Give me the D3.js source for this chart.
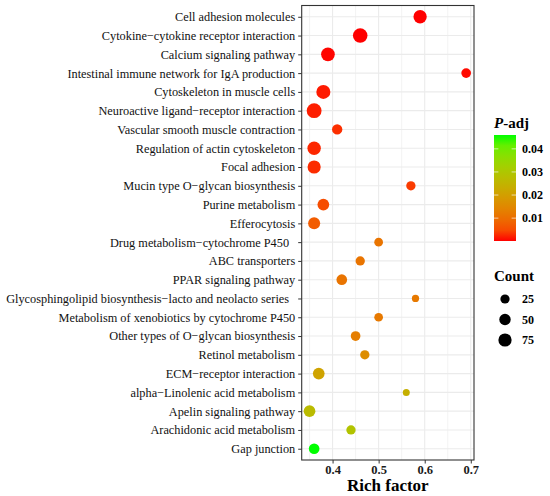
<!DOCTYPE html>
<html>
<head>
<meta charset="utf-8">
<script src="https://cdn.jsdelivr.net/npm/d3@7"></script>
<style>
  body { margin: 0; background: #fff; }
  svg { display: block; font-family: "Liberation Serif", "Times New Roman", serif; }
</style>
</head>
<body>
<div id="chart"></div>
<script>
// pathway names, top to bottom
const pathways = [
  "Cell adhesion molecules",
  "Cytokine\u2212cytokine receptor interaction",
  "Calcium signaling pathway",
  "Intestinal immune network for IgA production",
  "Cytoskeleton in muscle cells",
  "Neuroactive ligand\u2212receptor interaction",
  "Vascular smooth muscle contraction",
  "Regulation of actin cytoskeleton",
  "Focal adhesion",
  "Mucin type O\u2212glycan biosynthesis",
  "Purine metabolism",
  "Efferocytosis",
  "Drug metabolism\u2212cytochrome P450  ",
  "ABC transporters",
  "PPAR signaling pathway",
  "Glycosphingolipid biosynthesis\u2212lacto and neolacto series  ",
  "Metabolism of xenobiotics by cytochrome P450",
  "Other types of O\u2212glycan biosynthesis",
  "Retinol metabolism",
  "ECM\u2212receptor interaction",
  "alpha\u2212Linolenic acid metabolism",
  "Apelin signaling pathway",
  "Arachidonic acid metabolism",
  "Gap junction"
];
const richFactor = [0.59, 0.46, 0.39, 0.69, 0.38, 0.36, 0.41, 0.36, 0.36, 0.57, 0.38, 0.36,
                    0.50, 0.46, 0.42, 0.58, 0.50, 0.45, 0.47, 0.37, 0.56, 0.35, 0.44, 0.36];
const counts = [76, 96, 82, 30, 87, 100, 37, 78, 74, 26, 54, 58,
                20, 26, 41, 7, 20, 30, 26, 54, 5, 54, 26, 41];
const padj = [0.0001, 0.0001, 0.0002, 0.0003, 0.0008, 0.001, 0.002, 0.0015, 0.0018, 0.003, 0.005, 0.007,
              0.011, 0.011, 0.011, 0.012, 0.012, 0.013, 0.016, 0.021, 0.024, 0.027, 0.029, 0.046];
const xTicks = [0.4, 0.5, 0.6, 0.7];
const xMinor = [0.35, 0.45, 0.55, 0.65];
const colorTicks = [0.01, 0.02, 0.03, 0.04];
const sizeBreaks = [25, 50, 75];

const width = 550, height = 496;
const panel = { left: 301.7, right: 474, top: 5.5, bottom: 460 };

const data = pathways.map(function (p, i) {
  return { name: p, rich: richFactor[i], count: counts[i], padj: padj[i] };
});

const svg = d3.select("#chart").append("svg")
  .attr("width", width)
  .attr("height", height);

//----------------------------SCALES-----------------------------//
const xScale = d3.scaleLinear().domain([0.333, 0.707]).range([panel.left, panel.right]);
const yScale = d3.scalePoint().domain(pathways).range([panel.top, panel.bottom]).padding(0.6);
const rScale = d3.scaleRadial().domain([0, 100]).range([Math.sqrt(10), Math.sqrt(55)]);
const cScale = d3.scaleLinear()
  .domain(d3.extent(padj))
  .range(["#ff0000", "#00ff00"])
  .interpolate(d3.interpolateLab);

//-----------------------------GRID------------------------------//
const grid = svg.append("g");
grid.selectAll(".minor").data(xMinor).enter().append("line")
  .attr("x1", d => xScale(d)).attr("x2", d => xScale(d))
  .attr("y1", panel.top).attr("y2", panel.bottom)
  .attr("stroke", "#ebebeb").attr("stroke-width", 0.6);
grid.selectAll(".major").data(xTicks).enter().append("line")
  .attr("x1", d => xScale(d)).attr("x2", d => xScale(d))
  .attr("y1", panel.top).attr("y2", panel.bottom)
  .attr("stroke", "#ebebeb").attr("stroke-width", 1.1);
grid.selectAll(".hline").data(pathways).enter().append("line")
  .attr("x1", panel.left).attr("x2", panel.right)
  .attr("y1", d => yScale(d)).attr("y2", d => yScale(d))
  .attr("stroke", "#ebebeb").attr("stroke-width", 1.1);

//----------------------------POINTS-----------------------------//
svg.append("g").selectAll("circle")
  .data(data).enter().append("circle")
  .attr("cx", d => xScale(d.rich))
  .attr("cy", d => yScale(d.name))
  .attr("r", d => rScale(d.count))
  .attr("fill", d => cScale(d.padj));

// panel border
svg.append("rect")
  .attr("x", panel.left).attr("y", panel.top)
  .attr("width", panel.right - panel.left)
  .attr("height", panel.bottom - panel.top)
  .attr("fill", "none").attr("stroke", "#333").attr("stroke-width", 1.1);

//-----------------------------AXES------------------------------//
const yAxis = svg.append("g")
  .attr("transform", "translate(" + panel.left + ",0)")
  .call(d3.axisLeft(yScale).tickSize(3.5).tickPadding(3));
yAxis.select(".domain").remove();
yAxis.selectAll("line").attr("stroke", "#333");
yAxis.selectAll("text")
  .attr("fill", "#111")
  .style("font-size", "12.3px")
  .style("white-space", "pre")
  .attr("font-family", "Liberation Serif, Times New Roman, serif");

const xAxis = svg.append("g")
  .attr("transform", "translate(0," + panel.bottom + ")")
  .call(d3.axisBottom(xScale).tickValues(xTicks).tickFormat(d3.format(".1f")).tickSize(3.5).tickPadding(2));
xAxis.select(".domain").remove();
xAxis.selectAll("line").attr("stroke", "#333");
xAxis.selectAll("text")
  .attr("fill", "#1a1a1a")
  .style("font-size", "12.5px")
  .style("font-weight", "bold")
  .attr("font-family", "Liberation Serif, Times New Roman, serif");

svg.append("text")
  .attr("x", (panel.left + panel.right) / 2)
  .attr("y", 491)
  .attr("text-anchor", "middle")
  .style("font-size", "17px")
  .style("font-weight", "bold")
  .text("Rich factor");

//----------------------------LEGENDS----------------------------//
// colour bar
const bar = { x: 494, y: 135, w: 22, h: 106 };
const defs = svg.append("defs");
const grad = defs.append("linearGradient")
  .attr("id", "padjGrad")
  .attr("x1", "0").attr("y1", "1").attr("x2", "0").attr("y2", "0");
d3.range(0, 1.0001, 0.1).forEach(function (t) {
  const v = cScale.domain()[0] + t * (cScale.domain()[1] - cScale.domain()[0]);
  grad.append("stop").attr("offset", t).attr("stop-color", cScale(v));
});

const barScale = d3.scaleLinear().domain(cScale.domain()).range([bar.y + bar.h, bar.y]);

const title = svg.append("text")
  .attr("x", bar.x).attr("y", 128)
  .style("font-size", "15px")
  .style("font-weight", "bold");
title.append("tspan").style("font-style", "italic").text("P");
title.append("tspan").text("-adj");

svg.append("rect")
  .attr("x", bar.x).attr("y", bar.y)
  .attr("width", bar.w).attr("height", bar.h)
  .attr("fill", "url(#padjGrad)");

const cTick = svg.append("g").selectAll("g").data(colorTicks).enter().append("g");
cTick.append("line")
  .attr("x1", bar.x).attr("x2", bar.x + 4.4)
  .attr("y1", d => barScale(d)).attr("y2", d => barScale(d))
  .attr("stroke", "#fff").attr("stroke-width", 0.8).attr("opacity", 0.8);
cTick.append("line")
  .attr("x1", bar.x + bar.w - 4.4).attr("x2", bar.x + bar.w)
  .attr("y1", d => barScale(d)).attr("y2", d => barScale(d))
  .attr("stroke", "#fff").attr("stroke-width", 0.8).attr("opacity", 0.8);
cTick.append("text")
  .attr("x", 522)
  .attr("y", d => barScale(d))
  .attr("dy", "0.35em")
  .style("font-size", "12px")
  .style("font-weight", "bold")
  .text(d => d3.format(".2f")(d));

// size legend
svg.append("text")
  .attr("x", bar.x).attr("y", 281)
  .style("font-size", "15px")
  .style("font-weight", "bold")
  .text("Count");

const sizeY = d3.scalePoint().domain(sizeBreaks).range([299, 340]);
const sItem = svg.append("g").selectAll("g").data(sizeBreaks).enter().append("g");
sItem.append("circle")
  .attr("cx", 505)
  .attr("cy", d => sizeY(d))
  .attr("r", d => rScale(d))
  .attr("fill", "#000");
sItem.append("text")
  .attr("x", 522)
  .attr("y", d => sizeY(d))
  .attr("dy", "0.35em")
  .style("font-size", "12px")
  .style("font-weight", "bold")
  .text(d => d);
</script>
</body>
</html>
